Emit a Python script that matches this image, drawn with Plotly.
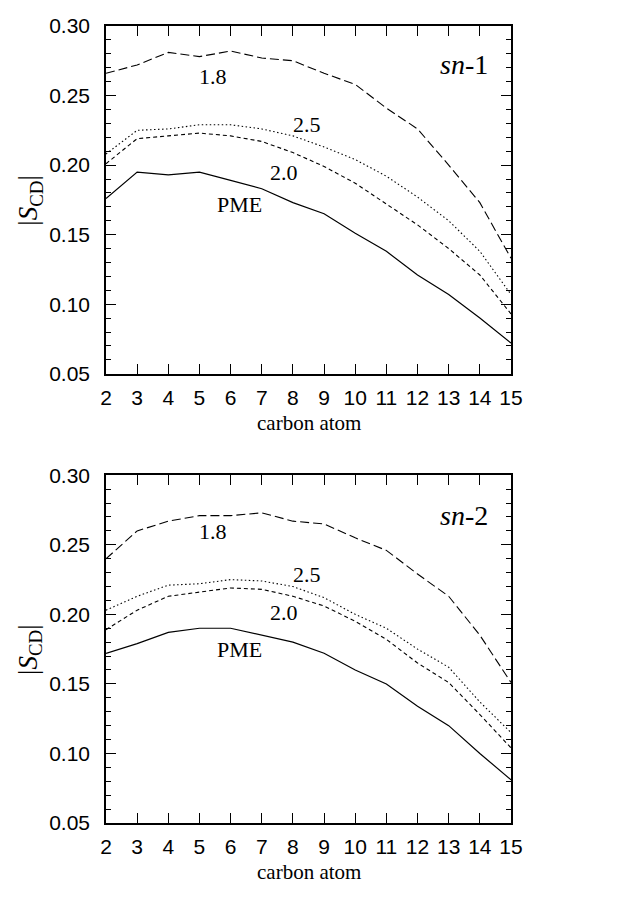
import plotly.graph_objects as go
from plotly.subplots import make_subplots

# carbon positions along the chain
carbon = [2, 3, 4, 5, 6, 7, 8, 9, 10, 11, 12, 13, 14, 15]

# sn-1 chain order parameters |S_CD|
sn1_18 = [0.266, 0.272, 0.281, 0.278, 0.282, 0.277, 0.275, 0.266, 0.258, 0.241, 0.226, 0.200, 0.173, 0.133]
sn1_25 = [0.208, 0.225, 0.226, 0.229, 0.229, 0.226, 0.221, 0.213, 0.204, 0.192, 0.177, 0.160, 0.138, 0.107]
sn1_20 = [0.201, 0.219, 0.221, 0.223, 0.221, 0.217, 0.209, 0.199, 0.187, 0.172, 0.157, 0.140, 0.121, 0.093]
sn1_pme = [0.176, 0.195, 0.193, 0.195, 0.189, 0.183, 0.173, 0.165, 0.151, 0.138, 0.121, 0.107, 0.090, 0.072]

# sn-2 chain order parameters |S_CD|
sn2_18 = [0.240, 0.260, 0.267, 0.271, 0.271, 0.273, 0.267, 0.265, 0.255, 0.246, 0.229, 0.213, 0.185, 0.151]
sn2_25 = [0.203, 0.213, 0.221, 0.222, 0.225, 0.224, 0.220, 0.212, 0.200, 0.190, 0.175, 0.162, 0.137, 0.115]
sn2_20 = [0.189, 0.203, 0.213, 0.216, 0.219, 0.218, 0.213, 0.206, 0.195, 0.182, 0.165, 0.151, 0.128, 0.104]
sn2_pme = [0.172, 0.179, 0.187, 0.190, 0.190, 0.185, 0.180, 0.172, 0.160, 0.150, 0.134, 0.120, 0.100, 0.081]

y_ticks = [0.05, 0.10, 0.15, 0.20, 0.25, 0.30]
y_ticktext = ['0.05', '0.10', '0.15', '0.20', '0.25', '0.30']

SERIF = 'Liberation Serif'
SANS = 'Liberation Sans'

# line styles: cutoff 1.8 long dash, 2.0 short dash, 2.5 dotted, PME solid
styles = {
    '1.8': dict(color='black', width=1.1, dash='9px,4px'),
    '2.0': dict(color='black', width=1.1, dash='4px,3px'),
    '2.5': dict(color='black', width=1.1, dash='1.5px,2.5px'),
    'PME': dict(color='black', width=1.2),
}

fig = make_subplots(rows=2, cols=1, vertical_spacing=0.1274)

panels = [
    (1, 'sn-1', {'1.8': sn1_18, '2.5': sn1_25, '2.0': sn1_20, 'PME': sn1_pme}),
    (2, 'sn-2', {'1.8': sn2_18, '2.5': sn2_25, '2.0': sn2_20, 'PME': sn2_pme}),
]

for row, name, series in panels:
    for key, vals in series.items():
        fig.add_trace(
            go.Scatter(x=carbon, y=vals, mode='lines', line=styles[key],
                       name=key, showlegend=False),
            row=row, col=1
        )

# curve labels (data coords)
label_pos = {
    1: {'1.8': (5.45, 0.2635), '2.5': (8.45, 0.2290), '2.0': (7.7, 0.1950), 'PME': (6.3, 0.1715)},
    2: {'1.8': (5.45, 0.2595), '2.5': (8.45, 0.2290), '2.0': (7.7, 0.2015), 'PME': (6.3, 0.1750)},
}
for row, pos in label_pos.items():
    xr = 'x' if row == 1 else 'x2'
    yr = 'y' if row == 1 else 'y2'
    for txt, (xx, yy) in pos.items():
        fig.add_annotation(x=xx, y=yy, xref=xr, yref=yr, text=txt, showarrow=False,
                           font=dict(family=SERIF, size=22, color='black'))
    fig.add_annotation(x=13.5, y=0.2725 if row == 1 else 0.271, xref=xr, yref=yr,
                       text=f'<i>sn</i>-{row}', showarrow=False,
                       font=dict(family=SERIF, size=28, color='black'))
    # axis titles
    dom = fig.layout['yaxis' if row == 1 else 'yaxis2'].domain
    fig.add_annotation(x=-0.188, y=(dom[0] + dom[1]) / 2, xref='paper', yref='paper',
                       xanchor='center', yanchor='middle',
                       text='|<i>S</i><sub>CD</sub>|', textangle=-90, showarrow=False,
                       font=dict(family=SERIF, size=27, color='black'))
    fig.add_annotation(x=0.5, y=dom[0], yshift=-49, xref='paper', yref='paper',
                       xanchor='center', yanchor='middle',
                       text='carbon atom', showarrow=False,
                       font=dict(family=SERIF, size=21, color='black'))

axis_common = dict(showline=True, linecolor='black', linewidth=1.5, mirror='allticks',
                   ticks='inside', ticklen=10, tickwidth=1.3, tickcolor='black',
                   showgrid=False, zeroline=False,
                   tickfont=dict(family=SANS, size=21, color='black'))

for row in (1, 2):
    fig.update_xaxes(range=[2, 15], tickmode='array', tickvals=carbon,
                     ticktext=[str(c) for c in carbon], ticklabelstandoff=4,
                     row=row, col=1, **axis_common)
    fig.update_yaxes(range=[0.05, 0.30], tickmode='array', tickvals=y_ticks,
                     ticktext=y_ticktext, ticklabelstandoff=10, row=row, col=1,
                     minor=dict(dtick=0.01, ticklen=5, tickwidth=1.2, tickcolor='black',
                                ticks='inside', showgrid=False),
                     **axis_common)

fig.update_layout(
    width=624, height=899,
    margin=dict(l=98, r=121, t=6, b=84),
    plot_bgcolor='white', paper_bgcolor='white',
    showlegend=False
)

fig.write_html("out.html")
